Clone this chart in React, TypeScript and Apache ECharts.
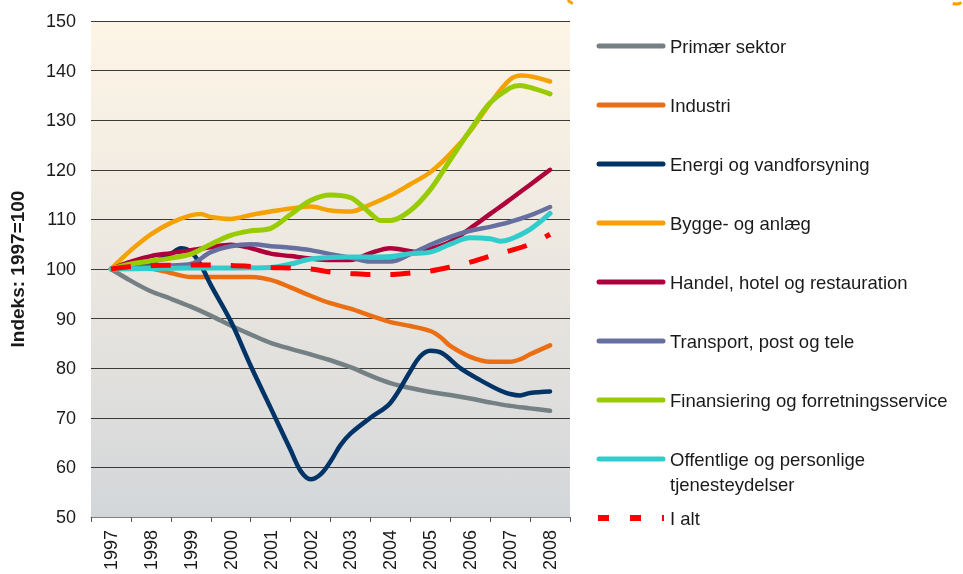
import React, { useEffect, useRef } from "react";
import * as echarts from "echarts";

const yearLabels = ["1997", "1998", "1999", "2000", "2001", "2002", "2003", "2004", "2005", "2006", "2007", "2008"];

const seriesNames = [
  "Primær sektor",
  "Industri",
  "Energi og vandforsyning",
  "Bygge- og anlæg",
  "Handel, hotel og restauration",
  "Transport, post og tele",
  "Finansiering og forretningsservice",
  "Offentlige og personlige\ntjenesteydelser",
  "I alt",
];

const seriesColors = ["#758085", "#EC6E12", "#003366", "#F5A100", "#B0003B", "#6670A0", "#99CC00", "#33CCCC", "#FF0000"];

const primaer = [
  [1997, 100], [1997.5, 97.6], [1998, 95.5], [1998.5, 94], [1999, 92.4], [1999.5, 90.6], [2000, 88.6],
  [2000.5, 86.8], [2001, 85.1], [2001.5, 83.9], [2002, 82.8], [2002.5, 81.6], [2003, 80.2], [2003.5, 78.5],
  [2004, 77], [2004.5, 76], [2005, 75.2], [2005.5, 74.6], [2006, 73.9], [2006.5, 73.1], [2007, 72.4],
  [2007.5, 71.9], [2008, 71.4],
];
const industri = [
  [1997, 100], [1997.5, 100.3], [1998, 100.1], [1998.5, 99.2], [1999, 98.4], [1999.5, 98.4], [2000, 98.4],
  [2000.5, 98.4], [2001, 97.8], [2001.5, 96.3], [2002, 94.6], [2002.5, 93.1], [2003, 92], [2003.5, 90.6],
  [2004, 89.3], [2004.5, 88.5], [2005, 87.5], [2005.25, 86.3], [2005.5, 84.5], [2006, 82.3], [2006.5, 81.3],
  [2007, 81.3], [2007.25, 81.8], [2007.5, 82.8], [2008, 84.6],
];
const energi = [
  [1997, 100], [1997.5, 100.6], [1998, 101.3], [1998.5, 103], [1998.75, 104.2], [1999, 103.5], [1999.25, 100.8],
  [1999.5, 96.8], [2000, 89.5], [2000.5, 80.5], [2001, 72], [2001.5, 63.5], [2001.75, 59.3], [2002, 57.6],
  [2002.25, 58.6], [2002.5, 61.2], [2002.75, 64.5], [2003, 66.8], [2003.5, 70], [2004, 73], [2004.5, 79.4],
  [2004.75, 82.4], [2005, 83.5], [2005.3, 83], [2005.75, 80], [2006.25, 77.6], [2006.75, 75.5], [2007, 74.8],
  [2007.25, 74.5], [2007.5, 75], [2008, 75.3],
];
const bygge = [
  [1997, 100], [1997.5, 103.8], [1998, 107], [1998.5, 109.3], [1999, 110.8], [1999.25, 111.1], [1999.5, 110.5],
  [2000, 110.1], [2000.5, 110.9], [2001, 111.6], [2001.5, 112.2], [2002, 112.6], [2002.5, 111.8], [2003, 111.6],
  [2003.5, 113], [2004, 114.8], [2004.5, 117.1], [2005, 119.5], [2005.5, 123.2], [2006, 127.8], [2006.5, 133.4],
  [2007, 138.2], [2007.3, 139], [2008, 137.8],
];
const handel = [
  [1997, 100], [1997.5, 101.5], [1998, 102.6], [1998.5, 103.2], [1999, 103.8], [1999.5, 104.4], [2000, 104.9],
  [2000.5, 104.2], [2001, 103.1], [2001.5, 102.6], [2002, 102.1], [2002.5, 101.8], [2003, 101.8], [2003.5, 103.2],
  [2004, 104.2], [2004.5, 103.6], [2004.75, 103.3], [2005, 104], [2005.5, 105.5], [2006, 108.2], [2006.5, 111.1],
  [2007, 114], [2007.5, 117], [2008, 120],
];
const transport = [
  [1997, 100], [1997.5, 100.3], [1998, 100.5], [1998.5, 100.7], [1999, 101], [1999.5, 103.4], [2000, 104.6],
  [2000.5, 105], [2001, 104.6], [2001.5, 104.3], [2002, 103.8], [2002.5, 103], [2003, 102.3], [2003.5, 101.5],
  [2004, 101.5], [2004.5, 103], [2005, 104.9], [2005.5, 106.5], [2006, 107.7], [2006.5, 108.5], [2007, 109.5],
  [2007.5, 110.8], [2008, 112.5],
];
const finans = [
  [1997, 100], [1997.5, 101], [1998, 101.6], [1998.5, 102.2], [1999, 103], [1999.5, 105], [2000, 106.8],
  [2000.5, 107.7], [2001, 108.2], [2001.5, 111], [2002, 113.8], [2002.5, 114.9], [2003, 114.4], [2003.25, 113],
  [2003.5, 111.2], [2003.75, 109.8], [2004, 109.8], [2004.5, 111.8], [2005, 116], [2005.5, 122], [2006, 128],
  [2006.5, 133.5], [2007, 136.5], [2007.25, 137], [2007.5, 136.6], [2008, 135.3],
];
const offentlige = [
  [1997, 100], [1998, 100.1], [1999, 100.2], [2000, 100.2], [2001, 100.3], [2001.5, 101], [2002, 102],
  [2002.5, 102.3], [2003, 102.4], [2003.5, 102.4], [2004, 102.5], [2004.5, 103.1], [2005, 103.4], [2005.5, 105],
  [2006, 106.3], [2006.5, 106.1], [2006.75, 105.6], [2007, 106], [2007.5, 108], [2008, 111.2],
];
const iAlt = [
  [1997, 100], [1997.5, 100.5], [1998, 100.7], [1999, 100.8], [2000, 100.7], [2001, 100.3], [2001.5, 100.2],
  [2002, 100], [2002.5, 99.4], [2003, 99.1], [2003.5, 98.9], [2004, 98.9], [2004.5, 99.2], [2005, 99.6],
  [2005.5, 100.4], [2006, 101.4], [2006.5, 102.6], [2007, 103.7], [2007.5, 105], [2008, 107],
];

const seriesData = [primaer, industri, energi, bygge, handel, transport, finans, offentlige, iAlt];

const FONT = "'Liberation Sans', Arial, sans-serif";

export default function App() {
  const ref = useRef<HTMLDivElement>(null);
  useEffect(() => {
    if (!ref.current) return;
    const chart = echarts.init(ref.current, null, { renderer: "svg" });

    const legendGraphics: any[] = [];
    seriesNames.forEach((name, i) => {
      const cy = 46 + i * 59;
      const dashed = i === seriesNames.length - 1;
      legendGraphics.push({
        type: "line",
        shape: { x1: dashed ? 598 : 599, y1: cy, x2: dashed ? 664 : 663, y2: cy },
        style: dashed
          ? { stroke: seriesColors[i], lineWidth: 6, lineDash: [11, 21] }
          : { stroke: seriesColors[i], lineWidth: 5, lineCap: "round" },
      });
      legendGraphics.push({
        type: "text",
        x: 670,
        y: cy - 12.5,
        style: {
          text: name,
          font: `18.5px ${FONT}`,
          fill: "#1a1a1a",
          lineHeight: 25,
          verticalAlign: "top",
          align: "left",
        },
      });
    });

    const option: any = {
      animation: false,
      textStyle: { fontFamily: FONT },
      grid: {
        left: 87,
        right: 393,
        top: 21,
        bottom: 57,
        show: true,
        borderWidth: 0,
        backgroundColor: {
          type: "linear",
          x: 0,
          y: 0,
          x2: 0,
          y2: 1,
          colorStops: [
            { offset: 0, color: "#FDF5E6" },
            { offset: 0.5, color: "#EBE7E0" },
            { offset: 1, color: "#D3D6D9" },
          ],
        },
      },
      xAxis: [
        {
          type: "category",
          data: yearLabels,
          boundaryGap: true,
          axisLine: { show: true, lineStyle: { color: "#808080", width: 1 } },
          axisTick: { show: true, length: 5, alignWithLabel: false, lineStyle: { color: "#555" } },
          axisLabel: { rotate: 90, fontSize: 18, color: "#1a1a1a", margin: 13, fontFamily: FONT },
          splitLine: { show: false },
        },
        { type: "value", min: 1996.5, max: 2008.5, show: false },
      ],
      yAxis: {
        type: "value",
        min: 50,
        max: 150,
        interval: 10,
        name: "Indeks: 1997=100",
        nameLocation: "middle",
        nameGap: 64,
        nameTextStyle: { fontWeight: "bold", fontSize: 19, color: "#1a1a1a", fontFamily: FONT },
        axisLabel: { fontSize: 18, color: "#1a1a1a", margin: 15, fontFamily: FONT },
        axisLine: { show: false },
        axisTick: { show: false },
        splitLine: { lineStyle: { color: "#3a3a3a", width: 1 } },
      },
      series: seriesData.map((d, i) => ({
        name: seriesNames[i],
        type: "line",
        xAxisIndex: 1,
        data: d,
        smooth: 0.35,
        showSymbol: false,
        symbol: "none",
        lineStyle:
          i === seriesData.length - 1
            ? { color: seriesColors[i], width: 5, type: [20, 20], cap: "butt" }
            : { color: seriesColors[i], width: i === 6 || i === 7 ? 5 : 4.5, cap: "round" },
        z: 2 + i,
      })),
      graphic: [
        ...legendGraphics,
        { type: "arc", shape: { cx: 576, cy: -6, r: 10, startAngle: 1.9, endAngle: 2.5 }, style: { stroke: "#F5A100", lineWidth: 3, fill: "none" } },
        { type: "arc", shape: { cx: 956, cy: -6, r: 10, startAngle: 1.0, endAngle: 1.9 }, style: { stroke: "#F5A100", lineWidth: 3, fill: "none" } },
      ],
    };
    chart.setOption(option);
    return () => chart.dispose();
  }, []);
  return <div ref={ref} style={{ position: "fixed", left: 0, top: 0, width: 963, height: 574 }} />;
}
